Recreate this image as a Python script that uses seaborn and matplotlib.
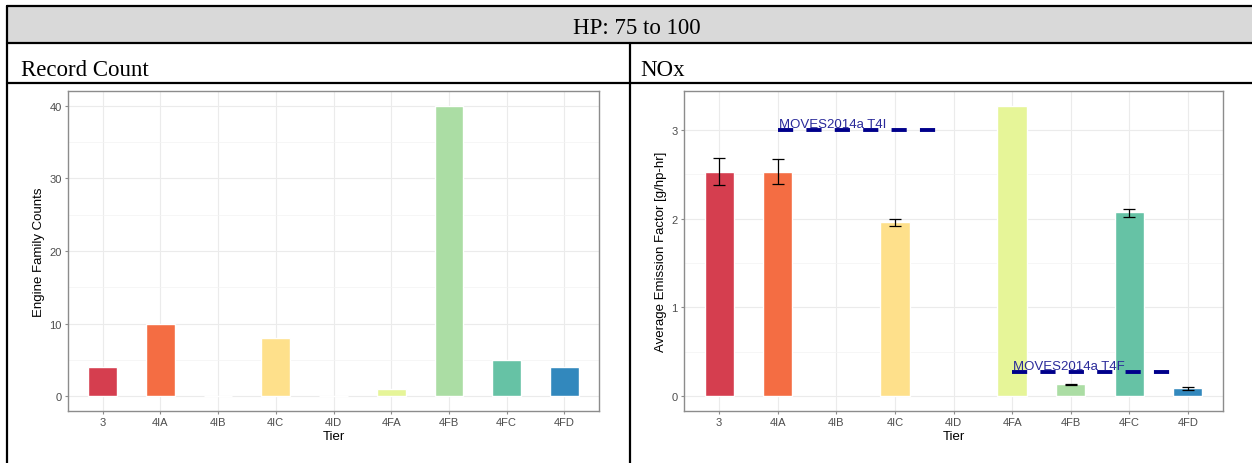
import matplotlib
matplotlib.use("Agg")
import matplotlib.pyplot as plt
import seaborn as sns
import pandas as pd
import numpy as np
from matplotlib.lines import Line2D
from matplotlib.patches import Rectangle

# ---------------- data ----------------
tiers = ["3", "4IA", "4IB", "4IC", "4ID", "4FA", "4FB", "4FC", "4FD"]
record_counts = [4, 10, 0, 8, 0, 1, 40, 5, 4]
nox_mean = [2.52, 2.52, np.nan, 1.96, np.nan, 3.27, 0.135, 2.07, 0.09]
nox_low = [2.38, 2.39, np.nan, 1.92, np.nan, np.nan, 0.125, 2.02, 0.07]
nox_high = [2.68, 2.67, np.nan, 2.00, np.nan, np.nan, 0.145, 2.11, 0.11]
moves_labels = ["MOVES2014a T4I", "MOVES2014a T4F"]
moves_values = [3.0, 0.28]
moves_start_tier = ["4IA", "4FA"]
header_text = "HP: 75 to 100"
panel_titles = ["Record Count", "NOx"]

palette = ["#D53E4F", "#F46D43", "#FDAE61", "#FEE08B", "#FFFFBF",
           "#E6F598", "#ABDDA4", "#66C2A5", "#3288BD"]

sns.set_theme(style="white")
plt.rcParams["font.family"] = ["Liberation Sans", "DejaVu Sans"]

W, H = 1252, 464
fig = plt.figure(figsize=(W / 100, H / 100), dpi=100)
fig.patch.set_facecolor("white")


def fx(x):
    return x / W


def fy(y):
    return (H - y) / H


def axes_px(l, r, t, b):
    return fig.add_axes([fx(l), fy(b), (r - l) / W, (b - t) / H])


# ---------------- table frame ----------------
fig.add_artist(Rectangle((fx(7), fy(44)), fx(1252) - fx(7), fy(7) - fy(44),
                         transform=fig.transFigure, facecolor="#d9d9d9",
                         edgecolor="none", zorder=0))
lw_tab = 1.6
for y in [7, 44, 84]:
    fig.add_artist(Line2D([fx(7), fx(1252)], [fy(y), fy(y)],
                          transform=fig.transFigure, color="black", lw=lw_tab))
fig.add_artist(Line2D([fx(7), fx(7)], [fy(7), fy(464)],
                      transform=fig.transFigure, color="black", lw=lw_tab))
fig.add_artist(Line2D([fx(630), fx(630)], [fy(44), fy(464)],
                      transform=fig.transFigure, color="black", lw=lw_tab))

fig.text(fx(637), fy(34), header_text, ha="center", va="baseline",
         fontsize=16.5, family="Liberation Serif", color="black")
fig.text(fx(21), fy(76), panel_titles[0], ha="left", va="baseline",
         fontsize=16.5, family="Liberation Serif", color="black")
fig.text(fx(640), fy(76), panel_titles[1], ha="left", va="baseline",
         fontsize=16.5, family="Liberation Serif", color="black")


def style_axes(ax, yticks, yminor, ylim):
    ax.set_facecolor("white")
    ax.set_xlim(-0.6, len(tiers) - 0.4)
    ax.set_ylim(*ylim)
    ax.set_yticks(yticks)
    ax.set_yticks(yminor, minor=True)
    ax.set_xticks(range(len(tiers)))
    ax.set_xticklabels(tiers)
    ax.grid(True, which="major", color="#ebebeb", lw=0.8, zorder=0)
    ax.grid(True, which="minor", axis="y", color="#f3f3f3", lw=0.5, zorder=0)
    ax.set_axisbelow(True)
    for s in ax.spines.values():
        s.set_visible(True)
        s.set_color("#8c8c8c")
        s.set_linewidth(1.0)
    ax.tick_params(axis="both", which="major", length=2.5, width=0.8,
                   color="#8c8c8c", labelsize=8, labelcolor="#4d4d4d", pad=2,
                   bottom=True, left=True)
    ax.tick_params(axis="both", which="minor", length=0)
    ax.set_xlabel("Tier", fontsize=9.5, color="black", labelpad=2)


# ---------------- left chart: record counts ----------------
df_count = pd.DataFrame({"tier": tiers, "count": record_counts})
ax1 = axes_px(68, 599, 92, 412)
sns.barplot(data=df_count, x="tier", y="count", hue="tier", order=tiers,
            hue_order=tiers, palette=palette, width=0.5, saturation=1,
            legend=False, errorbar=None, ax=ax1, zorder=2)
style_axes(ax1, [0, 10, 20, 30, 40], [5, 15, 25, 35], (-2, 42))
ax1.set_ylabel("Engine Family Counts", fontsize=9.5, color="black", labelpad=3)

# ---------------- right chart: NOx ----------------
df_nox = pd.DataFrame({"tier": tiers, "nox": nox_mean,
                       "low": nox_low, "high": nox_high})
ax2 = axes_px(684, 1223, 92, 412)
sns.barplot(data=df_nox, x="tier", y="nox", hue="tier", order=tiers,
            hue_order=tiers, palette=palette, width=0.5, saturation=1,
            legend=False, errorbar=None, ax=ax2, zorder=2)
mask = df_nox["low"].notna()
pos = np.array([tiers.index(t) for t in df_nox["tier"][mask]])
m = df_nox["nox"][mask].values
ax2.errorbar(pos, m,
             yerr=[m - df_nox["low"][mask].values, df_nox["high"][mask].values - m],
             fmt="none", ecolor="black", elinewidth=0.9, capsize=4.3,
             capthick=0.9, zorder=3)
ymax = np.nanmax(nox_mean)
style_axes(ax2, [0, 1, 2, 3], [0.5, 1.5, 2.5], (-0.05 * ymax, 1.05 * ymax))
ax2.set_ylabel("Average Emission Factor [g/hp-hr]", fontsize=9.5,
               color="black", labelpad=3)

for lab, val, st in zip(moves_labels, moves_values, moves_start_tier):
    x0 = tiers.index(st)
    ax2.plot([x0, x0 + 2.75], [val, val], color="#00008B", lw=2.8,
             dashes=(3.9, 3.4), solid_capstyle="butt", dash_capstyle="butt",
             zorder=4)
    ax2.text(x0 + 0.02, val + 0.03, lab, ha="left", va="baseline",
             fontsize=9.5, color="#2a2a9a", zorder=5)

fig.savefig("out.png", dpi=100, facecolor="white")
